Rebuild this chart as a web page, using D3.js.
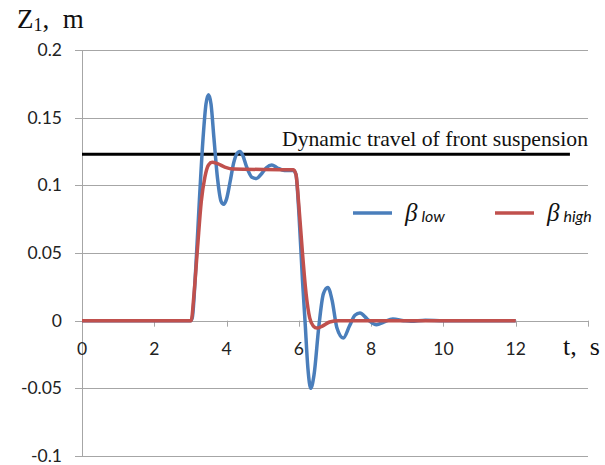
<!DOCTYPE html>
<html>
<head>
<meta charset="utf-8">
<script src="https://cdn.jsdelivr.net/npm/d3@7"></script>
<style>
  body { margin: 0; background: #fff; }
  svg { display: block; }
</style>
</head>
<body>
<div id="chart"></div>
<script>
// Define SVG area dimensions
var svgWidth = 605;
var svgHeight = 465;

// data
var lowT = [0, 3.0, 3.05, 3.15, 3.25, 3.35, 3.43, 3.5, 3.57, 3.65, 3.75, 3.85, 3.92, 4.0, 4.1, 4.2, 4.3, 4.37, 4.45, 4.55, 4.7, 4.83, 4.95, 5.1, 5.25, 5.4, 5.6, 5.85, 5.92, 6.0, 6.1, 6.17, 6.25, 6.33, 6.42, 6.55, 6.68, 6.8, 6.92, 7.05, 7.23, 7.4, 7.55, 7.69, 7.9, 8.15, 8.35, 8.6, 8.9, 9.1, 9.5, 10, 12];
var lowZ = [0, 0, 0.002, 0.04, 0.09, 0.135, 0.16, 0.167, 0.16, 0.135, 0.105, 0.088, 0.086, 0.09, 0.103, 0.117, 0.124, 0.125, 0.122, 0.114, 0.106, 0.105, 0.108, 0.113, 0.115, 0.113, 0.111, 0.111, 0.108, 0.08, 0.03, 0.0, -0.035, -0.05, -0.04, -0.005, 0.02, 0.0246, 0.015, -0.005, -0.0128, -0.004, 0.004, 0.0057, 0.001, -0.003, -0.001, 0.0012, 0.0, -0.0005, 0.0003, 0, 0];

var highT = [0, 3.02, 3.1, 3.2, 3.3, 3.4, 3.5, 3.6, 3.75, 3.95, 4.2, 5.85, 5.92, 6.0, 6.1, 6.2, 6.3, 6.4, 6.5, 6.65, 6.85, 7.1, 12];
var highZ = [0, 0, 0.02, 0.055, 0.088, 0.106, 0.115, 0.117, 0.116, 0.1135, 0.112, 0.1115, 0.108, 0.085, 0.05, 0.02, 0.002, -0.004, -0.0055, -0.004, -0.001, 0, 0];

var limitZ = 0.123;
var limitT = [0, 13.5];

var xTicks = [0, 2, 4, 6, 8, 10, 12, 14];
var xLabels = ["0", "2", "4", "6", "8", "10", "12"];
var yTicks = [-0.1, -0.05, 0, 0.05, 0.1, 0.15, 0.2];
var yLabels = ["-0.1", "-0.05", "0", "0.05", "0.1", "0.15", "0.2"];

var svg = d3.select("#chart")
  .append("svg")
  .attr("width", svgWidth)
  .attr("height", svgHeight);

// scales
var xScale = d3.scaleLinear().domain([0, 14]).range([82, 588]);
var yScale = d3.scaleLinear().domain([-0.1, 0.2]).range([456, 50]);

var gridColor = "#a6a6a6";

// horizontal gridlines
svg.append("g")
  .selectAll("line")
  .data(yTicks)
  .enter()
  .append("line")
  .attr("x1", xScale(0) - 7)
  .attr("x2", xScale(14))
  .attr("y1", d => Math.round(yScale(d)) + 0.5)
  .attr("y2", d => Math.round(yScale(d)) + 0.5)
  .attr("stroke", gridColor)
  .attr("stroke-width", 1);

// vertical axis line
svg.append("line")
  .attr("x1", xScale(0) + 0.5)
  .attr("x2", xScale(0) + 0.5)
  .attr("y1", yScale(0.2))
  .attr("y2", yScale(-0.1))
  .attr("stroke", gridColor);

// x axis ticks on the zero line
svg.append("g")
  .selectAll("line")
  .data(xTicks)
  .enter()
  .append("line")
  .attr("x1", d => Math.round(xScale(d)) + 0.5)
  .attr("x2", d => Math.round(xScale(d)) + 0.5)
  .attr("y1", yScale(0))
  .attr("y2", yScale(0) + 6)
  .attr("stroke", gridColor);

// y tick labels
svg.append("g")
  .selectAll("text")
  .data(yTicks)
  .enter()
  .append("text")
  .attr("x", 62)
  .attr("y", d => yScale(d) + 6)
  .attr("text-anchor", "end")
  .attr("font-family", "Lato, 'Open Sans', sans-serif")
  .attr("font-size", 17.5)
  .attr("fill", "#222")
  .text((d, i) => yLabels[i]);

// x tick labels
svg.append("g")
  .selectAll("text")
  .data(xLabels)
  .enter()
  .append("text")
  .attr("x", (d, i) => xScale(xTicks[i]))
  .attr("y", 355)
  .attr("text-anchor", "middle")
  .attr("font-family", "Lato, 'Open Sans', sans-serif")
  .attr("font-size", 17.5)
  .attr("fill", "#222")
  .text(d => d);

// axis titles
var yTitle = svg.append("text")
  .attr("x", 17)
  .attr("y", 28)
  .attr("font-family", "'Liberation Serif', 'Times New Roman', serif")
  .attr("font-size", 27)
  .attr("fill", "#111");
yTitle.append("tspan").text("Z");
yTitle.append("tspan").attr("font-size", 18).attr("dy", 3).text("1");
yTitle.append("tspan").attr("dy", -3).text(",\u00a0 m");

svg.append("text")
  .attr("x", 563)
  .attr("y", 355)
  .attr("font-family", "'Liberation Serif', 'Times New Roman', serif")
  .attr("font-size", 26)
  .attr("fill", "#111")
  .text("t,\u00a0 s");

// dynamic travel limit
svg.append("line")
  .attr("x1", xScale(limitT[0]))
  .attr("x2", xScale(limitT[1]))
  .attr("y1", yScale(limitZ))
  .attr("y2", yScale(limitZ))
  .attr("stroke", "#000")
  .attr("stroke-width", 3);

svg.append("text")
  .attr("x", 282)
  .attr("y", 146)
  .attr("font-family", "'Liberation Serif', 'Times New Roman', serif")
  .attr("font-size", 21)
  .attr("textLength", 306)
  .attr("lengthAdjust", "spacingAndGlyphs")
  .attr("fill", "#111")
  .text("Dynamic travel of front suspension");

// curves
var line = d3.line()
  .x(d => xScale(d[0]))
  .y(d => yScale(d[1]))
  .curve(d3.curveMonotoneX);

var blueColor = "#4a7ebb";
var redColor = "#c0504d";

svg.append("path")
  .datum(lowT.map((t, i) => [t, lowZ[i]]))
  .attr("d", line)
  .attr("fill", "none")
  .attr("stroke", blueColor)
  .attr("stroke-width", 3.5);

svg.append("path")
  .datum(highT.map((t, i) => [t, highZ[i]]))
  .attr("d", line)
  .attr("fill", "none")
  .attr("stroke", redColor)
  .attr("stroke-width", 3.5);

// legend
var legend = [
  { name: "low", color: blueColor, x: 353 },
  { name: "high", color: redColor, x: 495 }
];

var legendGroup = svg.append("g")
  .selectAll("g")
  .data(legend)
  .enter()
  .append("g")
  .attr("transform", d => `translate(${d.x}, 213)`);

legendGroup.append("line")
  .attr("x1", 0)
  .attr("x2", 39)
  .attr("stroke", d => d.color)
  .attr("stroke-width", 3.5);

var legendText = legendGroup.append("text")
  .attr("x", 52)
  .attr("y", 8)
  .attr("fill", "#111");
legendText.append("tspan")
  .attr("font-family", "'Liberation Serif', 'Times New Roman', serif")
  .attr("font-style", "italic")
  .attr("font-size", 25)
  .text("\u03b2");
legendText.append("tspan")
  .attr("dx", 4)
  .attr("dy", 1)
  .attr("font-family", "Lato, 'Open Sans', sans-serif")
  .attr("font-style", "italic")
  .attr("font-size", 16)
  .text(d => d.name);
</script>
</body>
</html>
